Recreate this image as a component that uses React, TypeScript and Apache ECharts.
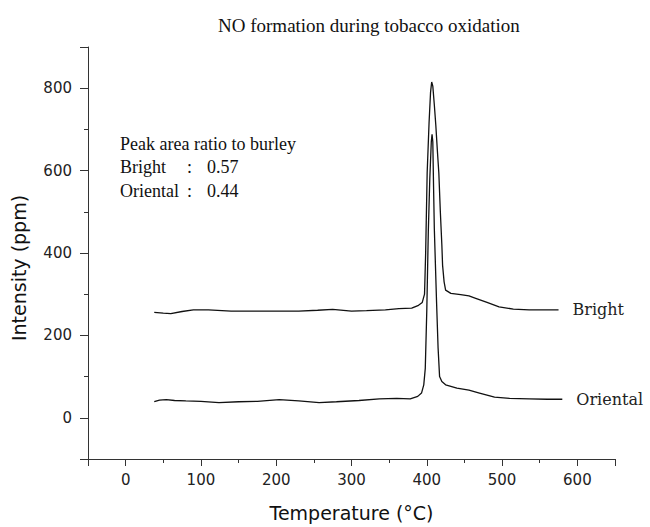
import React, { useEffect, useRef } from "react";
import * as echarts from "echarts";

const brightTemp = [38, 50, 60, 75, 90, 110, 140, 170, 200, 230, 255, 275, 300, 320, 345, 363, 380, 389, 394, 397, 398.5, 400.5, 403, 405, 406.5, 408, 410, 412, 414, 416, 418, 420, 421, 423, 425, 432, 445, 456, 465, 480, 496, 515, 536, 555, 575];
const brightVal = [256, 254, 253, 258, 262, 262, 259, 259, 259, 259, 261, 263, 259, 260, 262, 265, 266, 273, 280, 300, 400, 594, 715, 790, 815, 805, 760, 710, 650, 594, 500, 420, 370, 330, 310, 302, 299, 296, 290, 280, 269, 264, 262, 262, 262];

const orientalTemp = [38, 45, 54, 65, 80, 100, 124, 150, 175, 204, 230, 257, 280, 310, 337, 360, 378, 388, 393, 396, 398, 400, 402, 404, 406, 407, 408, 409, 410, 411, 413, 415, 417, 420, 425, 440, 456, 470, 490, 510, 536, 560, 580];
const orientalVal = [39, 43, 44, 42, 41, 40, 37, 39, 40, 44, 41, 37, 39, 42, 46, 47, 46, 52, 60, 80, 120, 260, 450, 580, 670, 688, 670, 560, 460, 400, 280, 170, 100, 88, 80, 72, 67, 60, 50, 47, 46, 45, 45];

const seriesNames = ["Bright", "Oriental"];
const titleText = "NO formation during tobacco oxidation";
const xName = "Temperature (°C)";
const yName = "Intensity (ppm)";
const noteLines = ["Peak area ratio to burley"];
const ratioNames = ["Bright", "Oriental"];
const ratioValues = ["0.57", "0.44"];

const pairs = (xs: number[], ys: number[]) => xs.map((x, i) => [x, ys[i]]);

export default function App() {
  const ref = useRef<HTMLDivElement>(null);
  useEffect(() => {
    if (!ref.current) return;
    const chart = echarts.init(ref.current, undefined, { renderer: "svg" });
    const sans = "DejaVu Sans";
    const serif = "Liberation Serif";
    const lineCommon = (name: string, data: number[][]) => ({
      type: "line",
      name,
      data,
      showSymbol: false,
      symbol: "none",
      lineStyle: { color: "#111", width: 1.3 },
      endLabel: {
        show: true,
        formatter: name,
        distance: 14,
        fontFamily: "DejaVu Serif",
        fontSize: 16,
        color: "#222",
      },
    });
    chart.setOption({
      animation: false,
      backgroundColor: "#fff",
      title: {
        text: titleText,
        left: 213,
        top: 11,
        textStyle: { fontFamily: serif, fontWeight: "normal", fontSize: 19, color: "#111" },
      },
      grid: { left: 88, right: 35, top: 47, bottom: 64 },
      xAxis: {
        type: "value",
        min: -50,
        max: 650,
        minInterval: 100,
        maxInterval: 100,
        name: xName,
        nameLocation: "middle",
        nameGap: 44,
        nameTextStyle: { fontFamily: sans, fontSize: 19, color: "#111" },
        axisLine: { show: true, onZero: false, lineStyle: { color: "#333", width: 1 } },
        axisTick: { show: true, length: 7, inside: false, lineStyle: { color: "#333" } },
        minorTick: { show: true, splitNumber: 2, length: 4, lineStyle: { color: "#333" } },
        axisLabel: {
          showMinLabel: false,
          showMaxLabel: false,
          margin: 13,
          fontFamily: sans,
          fontSize: 15,
          color: "#222",
        },
        splitLine: { show: false },
        minorSplitLine: { show: false },
      },
      yAxis: {
        type: "value",
        min: -100,
        max: 900,
        minInterval: 200,
        maxInterval: 200,
        name: yName,
        nameLocation: "middle",
        nameGap: 60,
        nameTextStyle: { fontFamily: sans, fontSize: 19, color: "#111", padding: [0, 30, 0, 0] },
        axisLine: { show: true, onZero: false, lineStyle: { color: "#333", width: 1 } },
        axisTick: { show: true, length: 8, inside: false, lineStyle: { color: "#333" } },
        minorTick: { show: true, splitNumber: 2, length: 4, lineStyle: { color: "#333" } },
        axisLabel: {
          showMinLabel: false,
          showMaxLabel: false,
          margin: 16,
          fontFamily: sans,
          fontSize: 15,
          color: "#222",
        },
        splitLine: { show: false },
        minorSplitLine: { show: false },
      },
      graphic: [
        {
          type: "text",
          left: 120,
          top: 135,
          style: { text: noteLines[0], font: `18px ${serif}`, fill: "#111" },
        },
        ...ratioNames.flatMap((n, i) => [
          { type: "text", left: 120, top: 158 + i * 24, style: { text: n, font: `18px ${serif}`, fill: "#111" } },
          { type: "text", left: 187, top: 158 + i * 24, style: { text: ":", font: `18px ${serif}`, fill: "#111" } },
          { type: "text", left: 207, top: 158 + i * 24, style: { text: ratioValues[i], font: `18px ${serif}`, fill: "#111" } },
        ]),
      ],
      series: [
        lineCommon(seriesNames[0], pairs(brightTemp, brightVal)),
        lineCommon(seriesNames[1], pairs(orientalTemp, orientalVal)),
      ],
    });
    return () => chart.dispose();
  }, []);
  return <div ref={ref} style={{ position: "absolute", left: 0, top: 0, width: 650, height: 527 }} />;
}
